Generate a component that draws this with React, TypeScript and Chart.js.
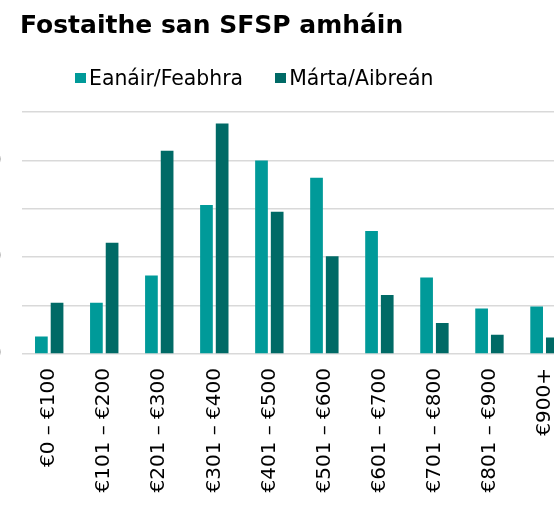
import React, { useEffect, useRef } from "react";
import { Chart, registerables } from "chart.js";

Chart.register(...registerables);

const chartTitle = "Fostaithe san SFSP amháin";
const categories = [
  "€0 – €100",
  "€101 – €200",
  "€201 – €300",
  "€301 – €400",
  "€401 – €500",
  "€501 – €600",
  "€601 – €700",
  "€701 – €800",
  "€801 – €900",
  "€900+",
];
const seriesNames = ["Eanáir/Feabhra", "Márta/Aibreán"];
const seriesColors = ["#009a99", "#006a66"];
const janFeb = [1.8, 5.3, 8.1, 15.4, 20.0, 18.2, 12.7, 7.9, 4.7, 4.9];
const marApr = [5.3, 11.5, 21.0, 23.8, 14.7, 10.1, 6.1, 3.2, 2.0, 1.7];
const yMin = 0;
const yMax = 25;
const yStep = 5;

const FONT = "'DejaVu Sans', Verdana, sans-serif";

export default function App() {
  const canvasRef = useRef<HTMLCanvasElement | null>(null);

  useEffect(() => {
    if (!canvasRef.current) return;
    const chart = new Chart(canvasRef.current, {
      type: "bar",
      data: {
        labels: categories,
        datasets: [
          {
            label: seriesNames[0],
            data: janFeb,
            backgroundColor: seriesColors[0],
            categoryPercentage: 0.57,
            barPercentage: 0.81,
          },
          {
            label: seriesNames[1],
            data: marApr,
            backgroundColor: seriesColors[1],
            categoryPercentage: 0.57,
            barPercentage: 0.81,
          },
        ],
      },
      options: {
        animation: false,
        responsive: true,
        maintainAspectRatio: false,
        layout: { padding: { top: 112, left: 0, right: 0, bottom: 0 } },
        plugins: {
          legend: { display: false },
          title: { display: false },
          tooltip: { enabled: false },
        },
        scales: {
          x: {
            grid: { display: false, drawTicks: false },
            border: { display: false },
            ticks: {
              autoSkip: false,
              minRotation: 90,
              maxRotation: 90,
              padding: 14,
              color: "#000000",
              font: { family: FONT, size: 20 },
            },
            afterFit: (s: any) => {
              s.height = 166;
              s.paddingLeft = 0;
              s.paddingRight = 0;
            },
          },
          y: {
            min: yMin,
            max: yMax,
            grid: { color: "#d9d9d9", lineWidth: 1.5, drawTicks: false },
            border: { display: false },
            ticks: {
              stepSize: yStep,
              padding: 20,
              color: "#595959",
              font: { family: FONT, size: 20 },
            },
            afterFit: (s: any) => {
              s.width = 85.7;
              s.paddingTop = 0;
              s.paddingBottom = 0;
            },
          },
        },
      },
    });
    return () => chart.destroy();
  }, []);

  return (
    <div
      style={{
        position: "fixed",
        left: 0,
        top: 0,
        width: 554,
        height: 505,
        overflow: "hidden",
        background: "#ffffff",
      }}
    >
      <div
        style={{
          position: "absolute",
          left: -64,
          top: 0,
          width: 636,
          height: 520,
        }}
      >
        <canvas ref={canvasRef} />
      </div>
      <div
        style={{
          position: "absolute",
          left: 20,
          top: 10,
          fontFamily: FONT,
          fontWeight: "bold",
          fontSize: 25,
          lineHeight: "normal",
          color: "#000000",
          whiteSpace: "nowrap",
        }}
      >
        {chartTitle}
      </div>
      <div
        style={{
          position: "absolute",
          left: 75,
          top: 66,
          display: "flex",
          alignItems: "center",
          fontFamily: FONT,
          fontSize: 20.4,
          lineHeight: "normal",
          color: "#000000",
          whiteSpace: "nowrap",
        }}
      >
        {seriesNames.map((name, i) => (
          <div
            key={name}
            style={{ display: "flex", alignItems: "center", marginRight: i === 0 ? 32 : 0 }}
          >
            <span
              style={{
                display: "inline-block",
                width: 11,
                height: 10,
                background: seriesColors[i],
                marginRight: 3,
              }}
            />
            <span>{name}</span>
          </div>
        ))}
      </div>
    </div>
  );
}
